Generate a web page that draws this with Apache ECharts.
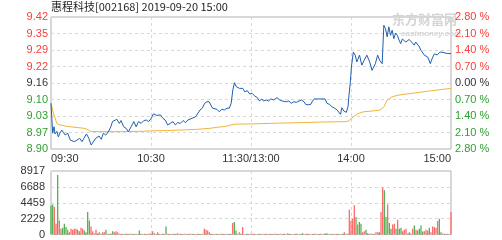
<!DOCTYPE html>
<html><head><meta charset="utf-8">
<script src="https://cdn.jsdelivr.net/npm/echarts@6/dist/echarts.min.js"></script>
<style>html,body{margin:0;padding:0;background:#fff}#c{width:502px;height:240px}</style>
</head><body><div id="c"></div>
<script>
const chartTitle = '惠程科技[002168] 2019-09-20 15:00';
const prevClose = 9.16;
const priceMin = 8.9035, priceMax = 9.4163, priceStep = 0.0641;
const volMax = 8917;
const timeLabels = {0: '09:30', 60: '10:30', 120: '11:30/13:00', 180: '14:00', 240: '15:00'};

const priceMinutes = [0,1,1.8,2.4,3.5,4.4,5.4,6.5,7.5,8.5,10,11.6,12.6,14,15.6,17.2,18.6,19.7,21.3,22.7,24.1,25.3,26.8,27.8,28.8,30.2,31.4,32.8,34.2,35.9,36.9,37.9,39.5,41,42,43.6,45,46.4,48.1,49.7,51.1,52.5,54.1,55.7,57.2,58.6,60.2,61.4,62.4,63.5,64.4,65.7,67.1,68.5,70,71.6,73.2,74.6,76,77.6,79.3,80.7,82.1,83.3,84.7,85.7,86.8,87.8,89.4,90.8,92.2,93.5,94.9,95.9,96.9,97.9,99.5,101,102.4,104,105.6,107,108.1,109.1,110.1,111.1,112.1,113.1,114.1,115.1,116.2,117.8,119.2,120.6,121.9,123.8,125.1,126.5,127.5,129.1,130.6,131.9,133.6,134.6,135.6,137.2,138.7,139.7,141.3,142.7,144.1,145.7,147.4,148.8,150.2,151.8,152.8,154.3,155.9,156.9,157.9,160,162,164.4,165.6,167,168.5,170.1,171.7,172.5,173.7,174.5,175.7,177.2,178.2,178.8,179.6,180.3,181.4,182.5,183.5,185.1,186.5,187.9,189.5,191.2,192.6,194.6,196,197.2,198.7,199.7,200.7,201.7,202.7,203.7,204.7,205.7,206.8,207.8,208.8,209.8,210.8,211.9,212.9,213.8,214.9,215.9,216.9,217.9,218.9,220,221,222,223,224,225,226,226.8,227.6,228.3,229.1,230,231,231.8,232.5,233.4,234.1,235.1,236.2,237.2,238.2,240];
const priceValues = [9.081,8.965,8.990,8.962,8.972,8.951,8.966,8.977,8.967,8.958,8.965,8.938,8.945,8.932,8.938,8.945,8.932,8.945,8.962,8.945,8.919,8.923,8.945,8.938,8.954,8.941,8.965,8.958,8.967,8.990,9.010,9.003,9.019,9.003,9.014,8.990,8.984,8.971,8.990,9.010,8.990,9.010,9.003,9.014,9.016,9.010,9.023,9.040,9.046,9.034,9.029,9.036,9.023,9.016,8.997,9.003,9.010,8.997,9.006,9.003,9.014,9.006,9.016,9.010,9.023,9.016,9.029,9.023,9.055,9.062,9.081,9.087,9.087,9.081,9.062,9.068,9.058,9.048,9.058,9.055,9.062,9.062,9.081,9.133,9.161,9.146,9.152,9.139,9.133,9.139,9.126,9.130,9.117,9.120,9.111,9.103,9.090,9.098,9.090,9.094,9.090,9.098,9.094,9.101,9.103,9.094,9.090,9.094,9.087,9.090,9.081,9.087,9.085,9.090,9.094,9.087,9.077,9.075,9.077,9.090,9.098,9.098,9.098,9.098,9.081,9.077,9.068,9.062,9.055,9.048,9.038,9.064,9.051,9.046,9.068,9.113,9.164,9.226,9.280,9.268,9.242,9.268,9.229,9.248,9.268,9.242,9.209,9.235,9.268,9.248,9.235,9.384,9.371,9.339,9.378,9.345,9.365,9.332,9.354,9.345,9.327,9.313,9.331,9.332,9.319,9.319,9.329,9.326,9.315,9.307,9.319,9.313,9.300,9.287,9.280,9.268,9.265,9.261,9.249,9.235,9.249,9.261,9.273,9.280,9.269,9.270,9.280,9.283,9.279,9.278,9.275,9.274,9.274];

const avgMinutes = [0,1.2,2.4,3.5,5.4,8.4,11.4,15.6,19.7,22.2,23.7,29.4,41.4,53.4,60.2,69.4,77.4,87.8,95.4,100,104.4,108.1,110.4,120.2,137.4,149.4,161.4,177.4,178.8,181.4,184.2,187.4,192.6,197.4,199.7,201.7,204.6,207.8,211.8,215.9,221.4,226,232.2,240];
const avgValues = [9.081,9.047,9.024,9.003,8.997,8.993,8.990,8.987,8.984,8.979,8.972,8.971,8.971,8.972,8.974,8.975,8.977,8.980,8.984,8.988,8.991,8.997,9.000,9.001,9.004,9.006,9.008,9.010,9.014,9.029,9.041,9.048,9.051,9.055,9.067,9.093,9.106,9.112,9.116,9.119,9.124,9.128,9.133,9.139];

const volumes = [
4030,4200,3870,1510,8350,1980,800,940,1510,1040,
660,330,800,660,800,800,660,470,940,800,
566,330,3160,1980,1130,472,190,660,190,330,
94,330,330,660,94,60,150,472,330,472,
330,90,60,120,80,150,60,90,110,70,
60,100,80,566,90,70,120,60,80,150,
90,472,190,60,330,120,80,100,60,1130,
100,80,60,110,90,70,190,60,100,80,
120,70,60,90,100,60,80,70,110,60,
80,100,800,660,566,330,90,70,60,100,
80,60,90,110,70,80,120,60,100,1600,
1750,566,120,330,90,1040,80,60,100,70,
90,60,110,80,70,100,60,120,80,90,
70,100,60,80,110,90,60,70,120,80,
90,60,190,100,70,80,60,110,90,70,
80,190,60,90,100,70,80,60,110,90,
70,80,100,60,90,190,150,70,80,60,
100,80,90,60,70,110,330,120,90,3490,
1890,2220,4100,2450,1416,1750,1510,330,472,660,
190,100,150,80,120,330,330,330,3160,6610,
6230,2450,4200,1600,800,1416,1510,800,2080,800,
940,472,660,800,150,330,150,800,1270,660,
566,800,1270,420,472,660,566,940,330,1130,
1040,940,1890,2220,330,150,100,80,120,60,
3160];
const volumeDirs = [
-1,-1,1,1,-1,1,1,-1,-1,-1,
1,-1,1,1,1,1,-1,1,1,1,
-1,-1,-1,-1,1,1,1,1,-1,1,
-1,1,1,-1,1,1,-1,-1,1,1,
1,-1,1,1,-1,1,-1,1,-1,1,
1,-1,1,-1,1,-1,1,1,-1,1,
1,1,-1,1,1,-1,1,-1,1,-1,
1,-1,1,1,-1,1,-1,1,1,-1,
1,1,-1,1,1,-1,1,1,-1,1,
-1,1,1,1,1,1,-1,1,1,-1,
1,1,-1,1,1,-1,1,1,-1,1,
-1,-1,1,1,-1,1,1,-1,1,1,
-1,1,1,-1,1,1,-1,1,1,-1,
1,-1,1,1,-1,1,1,-1,1,1,
-1,1,1,1,-1,1,1,-1,1,1,
-1,-1,1,1,-1,1,1,-1,1,1,
1,-1,1,1,-1,-1,-1,1,1,-1,
1,1,-1,1,1,-1,1,-1,1,1,
1,1,1,-1,1,-1,-1,1,1,-1,
-1,1,-1,1,1,1,1,-1,1,1,
-1,-1,1,-1,-1,1,1,-1,1,-1,
-1,1,1,1,-1,-1,1,1,-1,1,
-1,-1,-1,-1,1,1,1,-1,1,1,
1,1,1,-1,-1,1,-1,1,-1,1,
1];

const RED = '#ff3b3b', GREEN = '#2f9e2f', DARK = '#333333';
const FONT = 'Liberation Sans';
const chart = echarts.init(document.getElementById('c'), null, {renderer: 'canvas'});

const xBase = (gi, showLabel) => ({
  type: 'value', gridIndex: gi, min: 0, max: 240, interval: 60,
  axisLine: {show: false}, axisTick: {show: false},
  splitLine: {show: true, lineStyle: {color: '#d8d8d8', type: [3, 3]}},
  axisLabel: showLabel ? {
    show: true, margin: 4, fontSize: 11, fontFamily: FONT, color: DARK,
    alignMinLabel: 'left', alignMaxLabel: 'right',
    formatter: v => timeLabels[v] || ''
  } : {show: false}
});

chart.setOption({
  animation: false,
  backgroundColor: '#fff',
  grid: [
    {left: 51, top: 17, width: 400, height: 132, show: true, borderColor: '#b0b0b0', borderWidth: 1},
    {left: 51, top: 171, width: 400, height: 64, show: true, borderColor: '#b0b0b0', borderWidth: 1}
  ],
  graphic: [
    {type: 'text', left: 51, top: 1, style: {text: chartTitle, font: '11px "Noto Sans CJK SC"', fill: '#222'}},
    {type: 'text', left: 392, top: 13, z: 0, style: {text: '东方财富网', font: 'bold 13px "Noto Sans CJK SC"', fill: '#d4d4d4'}},
    {type: 'text', left: 401, top: 30, z: 0, style: {text: 'eastmoney.com', font: 'italic bold 8px "Liberation Sans"', fill: '#d4d4d4'}}
  ],
  xAxis: [xBase(0, true), xBase(1, false)],
  yAxis: [
    {
      type: 'value', gridIndex: 0, min: priceMin, max: priceMax, interval: priceStep,
      axisLine: {show: false}, axisTick: {show: false},
      splitLine: {show: true, lineStyle: {color: '#d8d8d8', type: [3, 3]}},
      axisLabel: {
        margin: 3, fontSize: 11, fontFamily: FONT,
        formatter: v => v.toFixed(2),
        color: v => { v = parseFloat(v); return v > prevClose + 0.01 ? RED : (v < prevClose - 0.01 ? GREEN : DARK); }
      }
    },
    {
      type: 'value', gridIndex: 0, position: 'right', min: priceMin, max: priceMax, interval: priceStep,
      axisLine: {show: false}, axisTick: {show: false}, splitLine: {show: false},
      axisLabel: {
        margin: 4, fontSize: 11, fontFamily: FONT,
        formatter: v => Math.abs((v - prevClose) / prevClose * 100).toFixed(2) + ' %',
        color: v => { v = parseFloat(v); return v > prevClose + 0.01 ? RED : (v < prevClose - 0.01 ? GREEN : DARK); }
      }
    },
    {
      type: 'value', gridIndex: 1, min: 0, max: volMax, interval: volMax / 4,
      axisLine: {show: false}, axisTick: {show: false},
      splitLine: {show: true, lineStyle: {color: '#d8d8d8', type: [3, 3]}},
      axisLabel: {margin: 6, fontSize: 11, fontFamily: FONT, color: DARK, formatter: v => String(Math.round(v))}
    }
  ],
  series: [
    {
      type: 'line', xAxisIndex: 0, yAxisIndex: 0, showSymbol: false, z: 3,
      lineStyle: {color: '#f0b53c', width: 1},
      data: avgMinutes.map((m, i) => [m, avgValues[i]])
    },
    {
      type: 'line', xAxisIndex: 0, yAxisIndex: 0, showSymbol: false, z: 4,
      lineStyle: {color: '#1f5faf', width: 1},
      data: priceMinutes.map((m, i) => [m, priceValues[i]])
    },
    {
      type: 'bar', xAxisIndex: 1, yAxisIndex: 2, barWidth: 1.3,
      itemStyle: {color: p => volumeDirs[p.dataIndex] > 0 ? '#ff6b6b' : '#55b055'},
      data: volumes.map((v, i) => [i, v])
    }
  ]
});
</script></body></html>
